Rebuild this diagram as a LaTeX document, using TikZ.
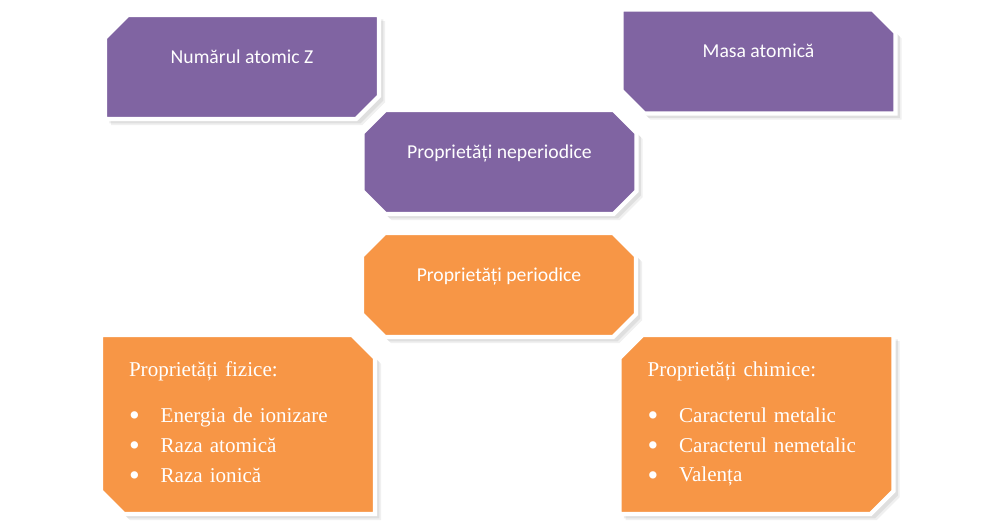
\documentclass[tikz,border=0pt]{standalone}
\usepackage{fontspec}
\setmainfont{Liberation Serif}
\newfontfamily\calibrifont{Carlito}
\usepackage{xcolor}
\usetikzlibrary{shapes.misc,shadows}
\definecolor{proppurple}{HTML}{8064A2}
\definecolor{proporange}{HTML}{F79646}
\newcommand{\propitem}[1]{\makebox[18pt][l]{\raisebox{-1.8pt}{\scalebox{1.45}{\textbullet}}}#1}
\tikzset{
  propcut/.style  = {chamfered rectangle, chamfered rectangle xsep=6.5pt,
                     chamfered rectangle ysep=6.5pt, draw=white, line width=2.5pt,
                     drop shadow={opacity=0.12, shadow xshift=3.5pt, shadow yshift=-3.5pt},
                     drop shadow={opacity=0.15, shadow xshift=2.5pt, shadow yshift=-2.5pt},
                     text=white, inner sep=0pt, minimum width=5.48cm},
  proptop/.style  = {propcut, fill=proppurple, minimum height=2.08cm,
                     font=\calibrifont\fontsize{11.2}{13}\selectfont, text depth=12pt},
  propmid/.style  = {propcut, fill=proporange, minimum height=2.08cm,
                     font=\calibrifont\fontsize{11.2}{13}\selectfont, text depth=12pt},
  proplist/.style = {propcut, fill=proporange, minimum height=3.58cm, text width=4.36cm,
                     align=left, font=\fontsize{12}{17}\selectfont},
}

\begin{document}
\begin{tikzpicture}[x=0.02cm, y=-0.02cm]
  \useasboundingbox (0,0) rectangle (1000,528);

  \node[proptop, chamfered rectangle corners={north west,south east}] (atomnr)   at (242,67)    {Numărul atomic Z};
  \node[proptop, chamfered rectangle corners={north east,south west}] (atommass) at (758.5,61.5) {Masa atomică};
  \node[proptop]  (nonper) at (499.5,162) {Proprietăți neperiodice};
  \node[propmid]  (per)    at (499,285)   {Proprietăți periodice};

  % the two lists under the periodic properties
  \node[proplist, chamfered rectangle corners={north east,south west}] (phys) at (238,424.5)
        {Proprietăți fizice:\\[9pt]
         \propitem{Energia de ionizare}\\
         \propitem{Raza atomică}\\
         \propitem{Raza ionică}\\[-14pt]\mbox{}};
  \node[proplist, chamfered rectangle corners={north west,south east}] (chem) at (756.5,424.5)
        {Proprietăți chimice:\\[9pt]
         \propitem{Caracterul metalic}\\
         \propitem{Caracterul nemetalic}\\
         \propitem{Valența}\\[-14pt]\mbox{}};
\end{tikzpicture}
\end{document}
